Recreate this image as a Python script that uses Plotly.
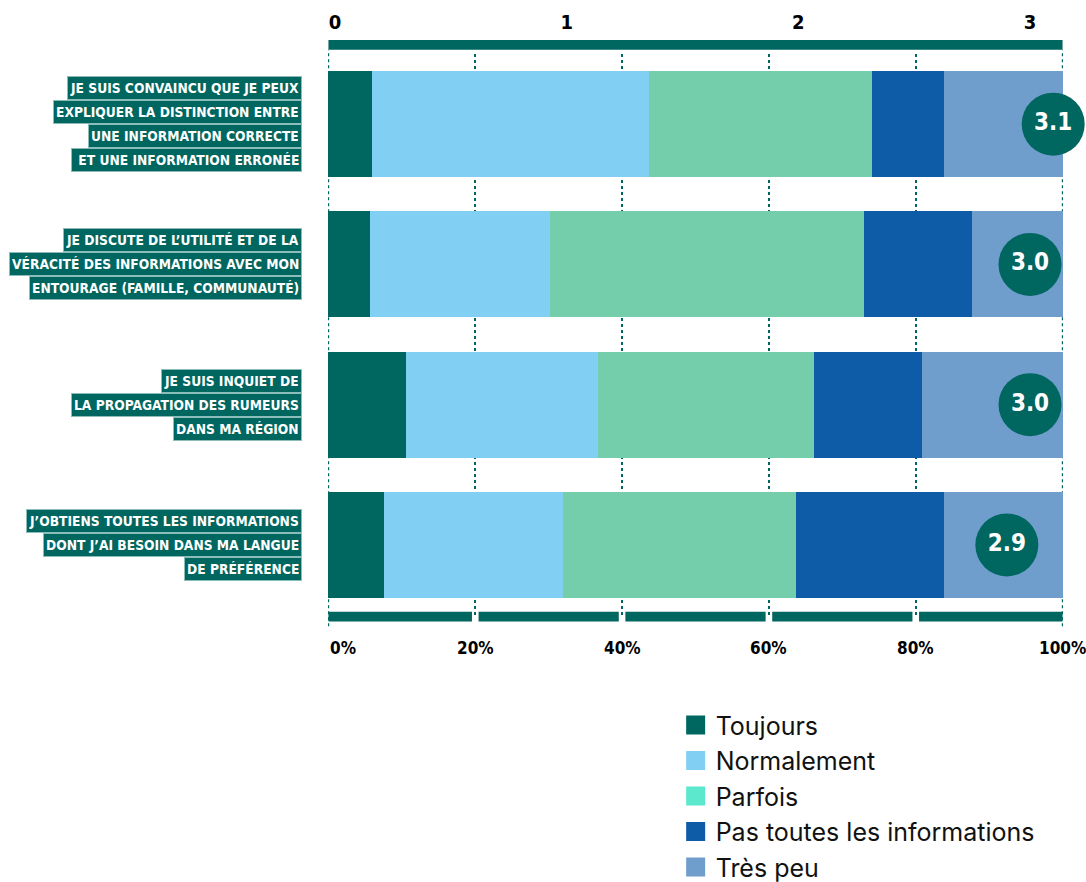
import plotly.graph_objects as go

# Survey statements (one list of lines per statement, top to bottom)
statement_lines = [
    ["JE SUIS CONVAINCU QUE JE PEUX", "EXPLIQUER LA DISTINCTION ENTRE",
     "UNE INFORMATION CORRECTE", " ET UNE INFORMATION ERRONÉE"],
    ["JE DISCUTE DE L’UTILITÉ ET DE LA", "VÉRACITÉ DES INFORMATIONS AVEC MON",
     "ENTOURAGE (FAMILLE, COMMUNAUTÉ)"],
    ["JE SUIS INQUIET DE", "LA PROPAGATION DES RUMEURS", "DANS MA RÉGION"],
    ["J’OBTIENS TOUTES LES INFORMATIONS", "DONT J’AI BESOIN DANS MA LANGUE",
     "DE PRÉFÉRENCE"],
]
statements = [" ".join(lines) for lines in statement_lines]

# Answer shares (%) per statement
series_names = ["Toujours", "Normalement", "Parfois", "Pas toutes les informations", "Très peu"]
toujours = [5.9, 5.7, 10.6, 7.5]
normalement = [37.8, 24.5, 26.1, 24.5]
parfois = [30.3, 42.7, 29.4, 31.7]
pas_toutes = [9.8, 14.7, 14.8, 20.1]
tres_peu = [16.2, 12.4, 19.1, 16.2]
series_values = [toujours, normalement, parfois, pas_toutes, tres_peu]

# Average score per statement (0-3 scale)
scores = [3.1, 3.0, 3.0, 2.9]
score_labels = ["3.1", "3.0", "3.0", "2.9"]

# Axis ticks
score_ticks = [0, 1, 2, 3]
pct_ticks = [0, 20, 40, 60, 80, 100]
pct_labels = ["0%", "20%", "40%", "60%", "80%", "100%"]

TEAL = "#006660"
bar_colors = [TEAL, "#82CFF4", "#75CEAB", "#0E5BA8", "#6F9DCC"]
legend_colors = [TEAL, "#82CFF4", "#5CE8CC", "#0E5BA8", "#6F9DCC"]
NARROW = "DejaVu Sans Condensed, sans-serif"

fig = go.Figure()

for name, vals, col in zip(series_names, series_values, bar_colors):
    fig.add_trace(go.Bar(
        y=statements, x=vals, orientation="h", name=name,
        marker=dict(color=col, line=dict(width=0)),
        showlegend=False, hoverinfo="x+name",
    ))

# Legend entries drawn as square markers
for name, col in zip(series_names, legend_colors):
    fig.add_trace(go.Scatter(
        x=[None], y=[None], mode="markers", name=name,
        marker=dict(symbol="square", size=16, color=col, line=dict(color=col, width=3)),
        showlegend=True,
    ))

# Score badges on the 0-3 scale
fig.add_trace(go.Scatter(
    x=scores, y=statements, xaxis="x2", mode="markers+text",
    text=score_labels, textposition="middle center",
    textfont=dict(family=NARROW, size=24, color="white", weight="bold"),
    marker=dict(size=63, color=TEAL, line=dict(width=0)),
    cliponaxis=False, showlegend=False, hoverinfo="skip",
))

# Statement labels: one highlighted box per line, right-aligned
annotations = []
LINE_H = 24
for stmt, lines in zip(statements, statement_lines):
    n = len(lines)
    for i, line in enumerate(lines):
        annotations.append(dict(
            x=-0.0354, xref="paper", xanchor="right",
            y=stmt, yref="y", yanchor="middle",
            yshift=-(i - (n - 1) / 2) * LINE_H,
            text=line, showarrow=False,
            font=dict(family=NARROW, size=13.7, color="white", weight="bold"),
            bgcolor=TEAL, bordercolor="#8DBDB8", borderwidth=1, borderpad=2,
            height=18, valign="middle",
        ))

# Percentage labels under the bottom scale band
for v, lab in zip(pct_ticks, pct_labels):
    annotations.append(dict(
        x=v, xref="x", xanchor="left" if v == 0 else "center",
        y=-0.058, yref="paper", yanchor="middle",
        text=lab, showarrow=False,
        font=dict(family=NARROW, size=17, color="black", weight="bold"),
    ))

# Scale bands: one continuous band on top, segmented band at the bottom
shapes = [dict(type="rect", xref="x", yref="paper", x0=pct_ticks[0], x1=pct_ticks[-1],
               y0=1.0075, y1=1.025, fillcolor=TEAL, line=dict(width=0))]
gap = 0.45
for a, b in zip(pct_ticks[:-1], pct_ticks[1:]):
    shapes.append(dict(
        type="rect", xref="x", yref="paper",
        x0=a + (gap if a > 0 else 0), x1=b - (gap if b < 100 else 0),
        y0=-0.0118, y1=0.006, fillcolor=TEAL, line=dict(width=0),
    ))

# Dotted guide lines at both ends of the percentage scale (under the bars)
for v in (pct_ticks[0], pct_ticks[-1]):
    shapes.append(dict(
        type="line", xref="x", yref="paper", x0=v, x1=v, y0=-0.02, y1=1.0075,
        line=dict(color=TEAL, width=1.5, dash="dot"), layer="below",
    ))

fig.update_layout(
    width=1086, height=882,
    margin=dict(l=328, r=23, t=54, b=267, autoexpand=False),
    paper_bgcolor="white", plot_bgcolor="white",
    barmode="stack", bargap=0.243,
    xaxis=dict(range=[-0.06, 100.06], tickvals=pct_ticks, showticklabels=False,
               showgrid=True, gridcolor=TEAL, gridwidth=1.5, griddash="dot",
               zeroline=False, showline=False, fixedrange=True),
    xaxis2=dict(overlaying="x", side="top", range=[-0.0302, 3.1424],
                tickvals=score_ticks, ticktext=[str(t) for t in score_ticks],
                showgrid=False, zeroline=False, showline=False,
                ticks="outside", ticklen=16, tickcolor="rgba(0,0,0,0)",
                tickfont=dict(family=NARROW, size=20, color="black", weight="bold"),
                fixedrange=True),
    yaxis=dict(categoryorder="array", categoryarray=statements,
               autorange="reversed", showticklabels=False, showgrid=False,
               zeroline=False, fixedrange=True),
    legend=dict(x=0.473, xanchor="left", y=-0.1554, yanchor="top",
                traceorder="normal",
                font=dict(family="Inter, Roboto, sans-serif", size=25, color="#111111"),
                bgcolor="rgba(0,0,0,0)", itemclick=False),
    annotations=annotations,
    shapes=shapes,
)

fig.write_html("out.html")
